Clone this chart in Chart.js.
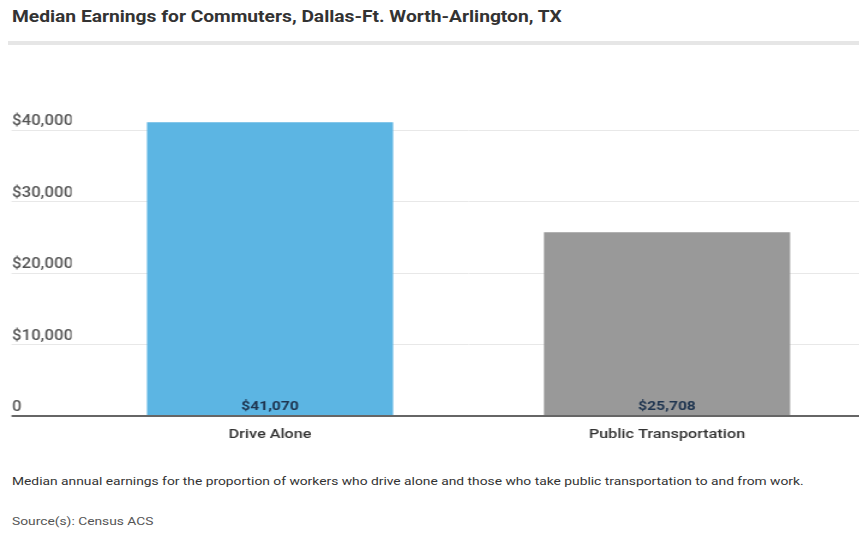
<!DOCTYPE html>
<html>
<head>
<meta charset="utf-8">
<script src="https://cdn.jsdelivr.net/npm/chart.js@4.4.0/dist/chart.umd.min.js"></script>
<style>
  html, body { margin: 0; padding: 0; background: #fff; width: 859px; height: 536px; overflow: hidden; position: relative; font-family: Roboto, "Liberation Sans", sans-serif; }
  #title { position: absolute; left: 12px; top: 7px; font-size: 16px; font-weight: 700; color: #333; white-space: nowrap; transform-origin: left top; transform: scaleX(1.2); }
  #sep { position: absolute; left: 8px; top: 41px; width: 851px; height: 4px; background: #e6e6e6; }
  #wrap { position: absolute; left: 0; top: 0; width: 734px; height: 446px; transform-origin: left top; transform: scaleX(1.2); }
  #caption { position: absolute; left: 12px; top: 474px; font-size: 11.5px; color: #333; white-space: nowrap; transform-origin: left top; transform: scaleX(1.2); }
  #source { position: absolute; left: 12px; top: 514px; font-size: 11.5px; color: #555; white-space: nowrap; transform-origin: left top; transform: scaleX(1.2); }
</style>
</head>
<body>
<div id="title">Median Earnings for Commuters, Dallas-Ft. Worth-Arlington, TX</div>
<div id="sep"></div>
<div id="wrap"><canvas id="c" width="734" height="446"></canvas></div>
<div id="caption">Median annual earnings for the proportion of workers who drive alone and those who take public transportation to and from work.</div>
<div id="source">Source(s): Census ACS</div>
<script>
const categories = ["Drive Alone", "Public Transportation"];
const earnings = [41070, 25708];
const barColors = ["#5cb5e3", "#999999"];
const tickValues = [0, 10000, 20000, 30000, 40000];

function fmtMoney(v) {
  return v === 0 ? "0" : "$" + v.toLocaleString("en-US");
}

const valueLabels = {
  id: "valueLabels",
  afterDatasetsDraw(chart) {
    const ctx = chart.ctx;
    const meta = chart.getDatasetMeta(0);
    ctx.save();
    ctx.font = "bold 13px Roboto, sans-serif";
    ctx.fillStyle = "#1f3550";
    ctx.textAlign = "center";
    ctx.textBaseline = "middle";
    meta.data.forEach((bar, i) => {
      ctx.fillText(fmtMoney(earnings[i]), bar.x, bar.base - 8);
    });
    ctx.restore();
  }
};

new Chart(document.getElementById("c"), {
  type: "bar",
  data: {
    labels: categories,
    datasets: [{
      data: earnings,
      backgroundColor: barColors,
      borderWidth: 0,
      barPercentage: 0.62,
      categoryPercentage: 1.0
    }]
  },
  options: {
    responsive: false,
    animation: false,
    devicePixelRatio: 1,
    layout: { padding: { left: 10, right: 12.75, top: 94.25, bottom: 0 } },
    plugins: { legend: { display: false }, tooltip: { enabled: false } },
    scales: {
      x: {
        grid: { display: false },
        border: { display: false },
        ticks: { color: "#333", font: { family: "Roboto", size: 13.5, weight: "500" }, padding: 3 },
        afterFit(scale) { scale.height = 30; }
      },
      y: {
        min: 0,
        max: 45000,
        border: { display: false },
        afterBuildTicks(scale) { scale.ticks = tickValues.map(v => ({ value: v })); },
        grid: {
          color: ctx => (ctx.tick && ctx.tick.value === 0 ? "#666666" : "#e8e8e8"),
          lineWidth: ctx => (ctx.tick && ctx.tick.value === 0 ? 2 : 1),
          drawTicks: true,
          tickLength: 50
        },
        ticks: {
          crossAlign: "far",
          labelOffset: -8.5,
          padding: 0,
          color: "#555",
          font: { family: "Roboto", size: 14, weight: "500" },
          callback: v => fmtMoney(v)
        },
        afterFit(scale) { scale.width = 49.6; }
      }
    }
  },
  plugins: [valueLabels]
});
</script>
</body>
</html>
